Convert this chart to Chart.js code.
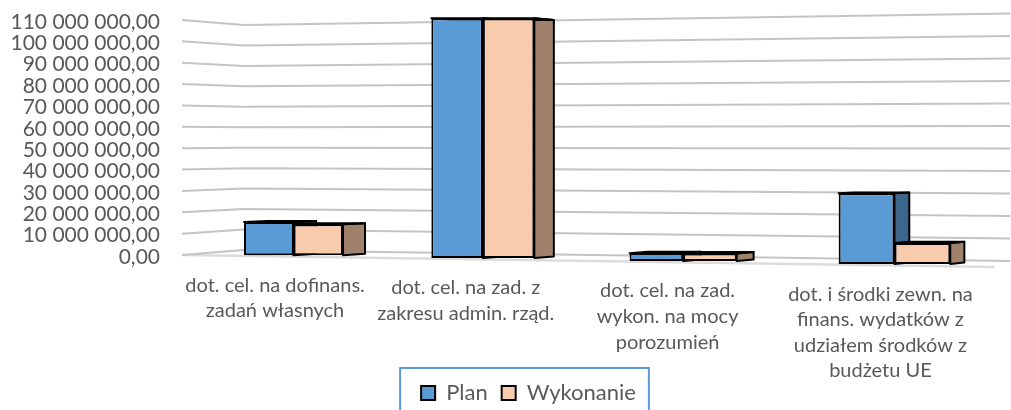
<!DOCTYPE html>
<html>
<head>
<meta charset="utf-8">
<style>
  html, body { margin: 0; background: #fff; overflow: hidden; }
  canvas { display: block; }
</style>
<script src="https://cdn.jsdelivr.net/npm/chart.js@4"></script>
</head>
<body>
<canvas id="chart" width="1011" height="410"></canvas>
<script>
const categories = [
  ['dot. cel. na dofinans.', 'zadań własnych'],
  ['dot. cel. na zad. z', 'zakresu admin. rząd.'],
  ['dot. cel. na zad.', 'wykon. na mocy', 'porozumień'],
  ['dot. i środki zewn. na', 'finans. wydatków z', 'udziałem środków z', 'budżetu UE']
];
const planValues = [15200000, 110000000, 3500000, 32500000];
const wykonanieValues = [14200000, 110000000, 3400000, 9600000];

const fontName = 'Lato, Carlito, sans-serif';
const textColor = '#595959';

// perspective helpers, Excel 3D look
const wall = { depth: 0.0424, vx: 1644, vy: 137, rightX: 1010, rightDrop: 6, rightGrow: 1.053 };
const barDepth = { t: 0.013, vx: 2035, vy: 145 };
const floorSlope = 12 / 813;
const frontGrow = 1.02;
const plotTop = 20;

function floorY(chart, x) {
  const area = chart.chartArea;
  return area.bottom + (x - area.left) * floorSlope;
}
function shiftCenter(x) {
  const d = x - 588;
  return x + 1.33e-4 * d * d - 0.0146 * d - 6.87;
}
function backPoint(x, y) {
  return { x: x + barDepth.t * (barDepth.vx - x), y: y + barDepth.t * (barDepth.vy - y) };
}
function face(ctx, pts, fill) {
  ctx.beginPath();
  pts.forEach((p, i) => i ? ctx.lineTo(p.x, p.y) : ctx.moveTo(p.x, p.y));
  ctx.closePath();
  ctx.fillStyle = fill;
  ctx.fill();
  ctx.stroke();
}

const sideColors = ['#3d668d', '#a0816c'];
const topColors = ['#2f5272', '#7d6453'];

const perspective = {
  id: 'perspective',
  afterLayout(chart) {
    // legend sits right of the canvas centre in the original
    const legend = chart.legend;
    const h = legend.height;
    legend.left += 31;
    legend.right += 31;
    legend.top = 368;
    legend.bottom = 368 + h;
    // labels get clipped to the axis box otherwise
    chart.scales.x.bottom = chart.height;
    // stretch the value axis up to the top gridline
    const y = chart.scales.y;
    y.top = plotTop;
    y.height = y.bottom - plotTop;
    y.configure();
    chart.chartArea.top = plotTop;
    chart.chartArea.height = chart.chartArea.bottom - plotTop;
  },
  afterDatasetsUpdate(chart) {
    const x = chart.scales.x;
    const y = chart.scales.y;
    const zero = y.getPixelForValue(0);
    categories.forEach((c, i) => {
      const center = shiftCenter(x.getPixelForValue(i));
      const w = 49.5 + (center - 293) * 0.0105;
      chart.data.datasets.forEach((ds, d) => {
        const bar = chart.getDatasetMeta(d).data[i];
        const base = floorY(chart, center) - 1.5;
        bar.x = center + (d === 0 ? -w / 2 : w / 2);
        bar.width = w;
        bar.y = base - (zero - y.getPixelForValue(ds.data[i])) * frontGrow;
        bar.base = base;
        bar.height = base - bar.y;
      });
    });
    // category labels follow the sloped floor
    x.getLabelItems(chart.chartArea).forEach(item => {
      const t = item.options.translation;
      const center = shiftCenter(t[0]);
      const nx = center - 16.3 + 0.0075 * (center - 588);
      t[1] += floorY(chart, nx) - chart.chartArea.bottom;
      t[0] = nx;
    });
  },
  beforeDatasetsDraw(chart) {
    const ctx = chart.ctx;
    const y = chart.scales.y;
    const area = chart.chartArea;
    const zero = y.getPixelForValue(0);
    ctx.save();
    ctx.lineJoin = 'round';

    // floor front edge
    ctx.strokeStyle = '#dcdcdc';
    ctx.lineWidth = 2.5;
    ctx.beginPath();
    ctx.moveTo(area.left, zero);
    ctx.lineTo(area.right, floorY(chart, area.right));
    ctx.stroke();

    // side wall and back wall gridlines
    ctx.strokeStyle = '#c4c4c4';
    ctx.lineWidth = 2;
    y.ticks.forEach(tick => {
      const py = y.getPixelForValue(tick.value);
      const cornerX = area.left + wall.depth * (wall.vx - area.left);
      const cornerY = py + wall.depth * (wall.vy - py);
      const endY = zero + wall.rightDrop - (zero - py) * wall.rightGrow;
      ctx.beginPath();
      ctx.moveTo(area.left, py);
      ctx.lineTo(cornerX, cornerY);
      ctx.lineTo(wall.rightX, endY);
      ctx.stroke();
    });

    // 3D faces of the bars, front comes from Chart.js
    ctx.strokeStyle = '#000';
    ctx.lineWidth = 2;
    chart.data.datasets.forEach((ds, d) => {
      chart.getDatasetMeta(d).data.forEach(bar => {
        const l = bar.x - bar.width / 2;
        const r = bar.x + bar.width / 2;
        const tl = { x: l, y: bar.y };
        const tr = { x: r, y: bar.y };
        const br = { x: r, y: bar.base };
        face(ctx, [tr, br, backPoint(r, bar.base), backPoint(r, bar.y)], sideColors[d]);
        face(ctx, [tl, tr, backPoint(r, bar.y), backPoint(l, bar.y)], topColors[d]);
      });
    });
    ctx.restore();
  },
  afterDraw(chart) {
    // legend frame runs off the bottom of the picture
    const ctx = chart.ctx;
    const boxes = chart.legend.legendHitBoxes;
    const last = boxes[boxes.length - 1];
    const left = boxes[0].left - 21;
    const right = last.left + last.width + 13;
    const top = chart.legend.top;
    ctx.save();
    ctx.strokeStyle = '#5b9bd5';
    ctx.lineWidth = 2;
    ctx.beginPath();
    ctx.moveTo(left, 420);
    ctx.lineTo(left, top);
    ctx.lineTo(right, top);
    ctx.lineTo(right, 420);
    ctx.stroke();
    ctx.restore();
  }
};

new Chart(document.getElementById('chart').getContext('2d'), {
  type: 'bar',
  data: {
    labels: categories,
    datasets: [
      { label: 'Plan', data: planValues, backgroundColor: '#5b9bd5', borderColor: '#000', borderWidth: 2, borderSkipped: false, clip: false },
      { label: 'Wykonanie', data: wykonanieValues, backgroundColor: '#f8cbad', borderColor: '#000', borderWidth: 2, borderSkipped: false, clip: false }
    ]
  },
  options: {
    responsive: false,
    animation: false,
    events: [],
    layout: { autoPadding: false, padding: { top: 20, right: 16, left: 0, bottom: 0 } },
    plugins: {
      tooltip: { enabled: false },
      legend: {
        position: 'bottom',
        labels: {
          boxWidth: 14,
          boxHeight: 14,
          padding: 14,
          color: textColor,
          font: { family: fontName, size: 22 }
        }
      }
    },
    scales: {
      x: {
        grid: { display: false },
        border: { display: false },
        afterFit: s => { s.height = 155 - (s.chart.legend ? s.chart.legend.height : 0); },
        ticks: {
          autoSkip: false,
          maxRotation: 0,
          minRotation: 0,
          padding: 8,
          color: textColor,
          font: { family: fontName, size: 20, lineHeight: 1.28 }
        }
      },
      y: {
        min: 0,
        max: 110000000,
        grid: { display: false, drawTicks: false },
        border: { display: false },
        afterFit: s => { s.width = 182; },
        ticks: {
          autoSkip: false,
          stepSize: 10000000,
          padding: 22,
          labelOffset: 2,
          color: textColor,
          font: { family: fontName, size: 21 },
          callback: v => v === 0 ? '0,00' : String(v).replace(/\B(?=(\d{3})+$)/g, ' ') + ',00'
        }
      }
    }
  },
  plugins: [perspective]
});
</script>
</body>
</html>
